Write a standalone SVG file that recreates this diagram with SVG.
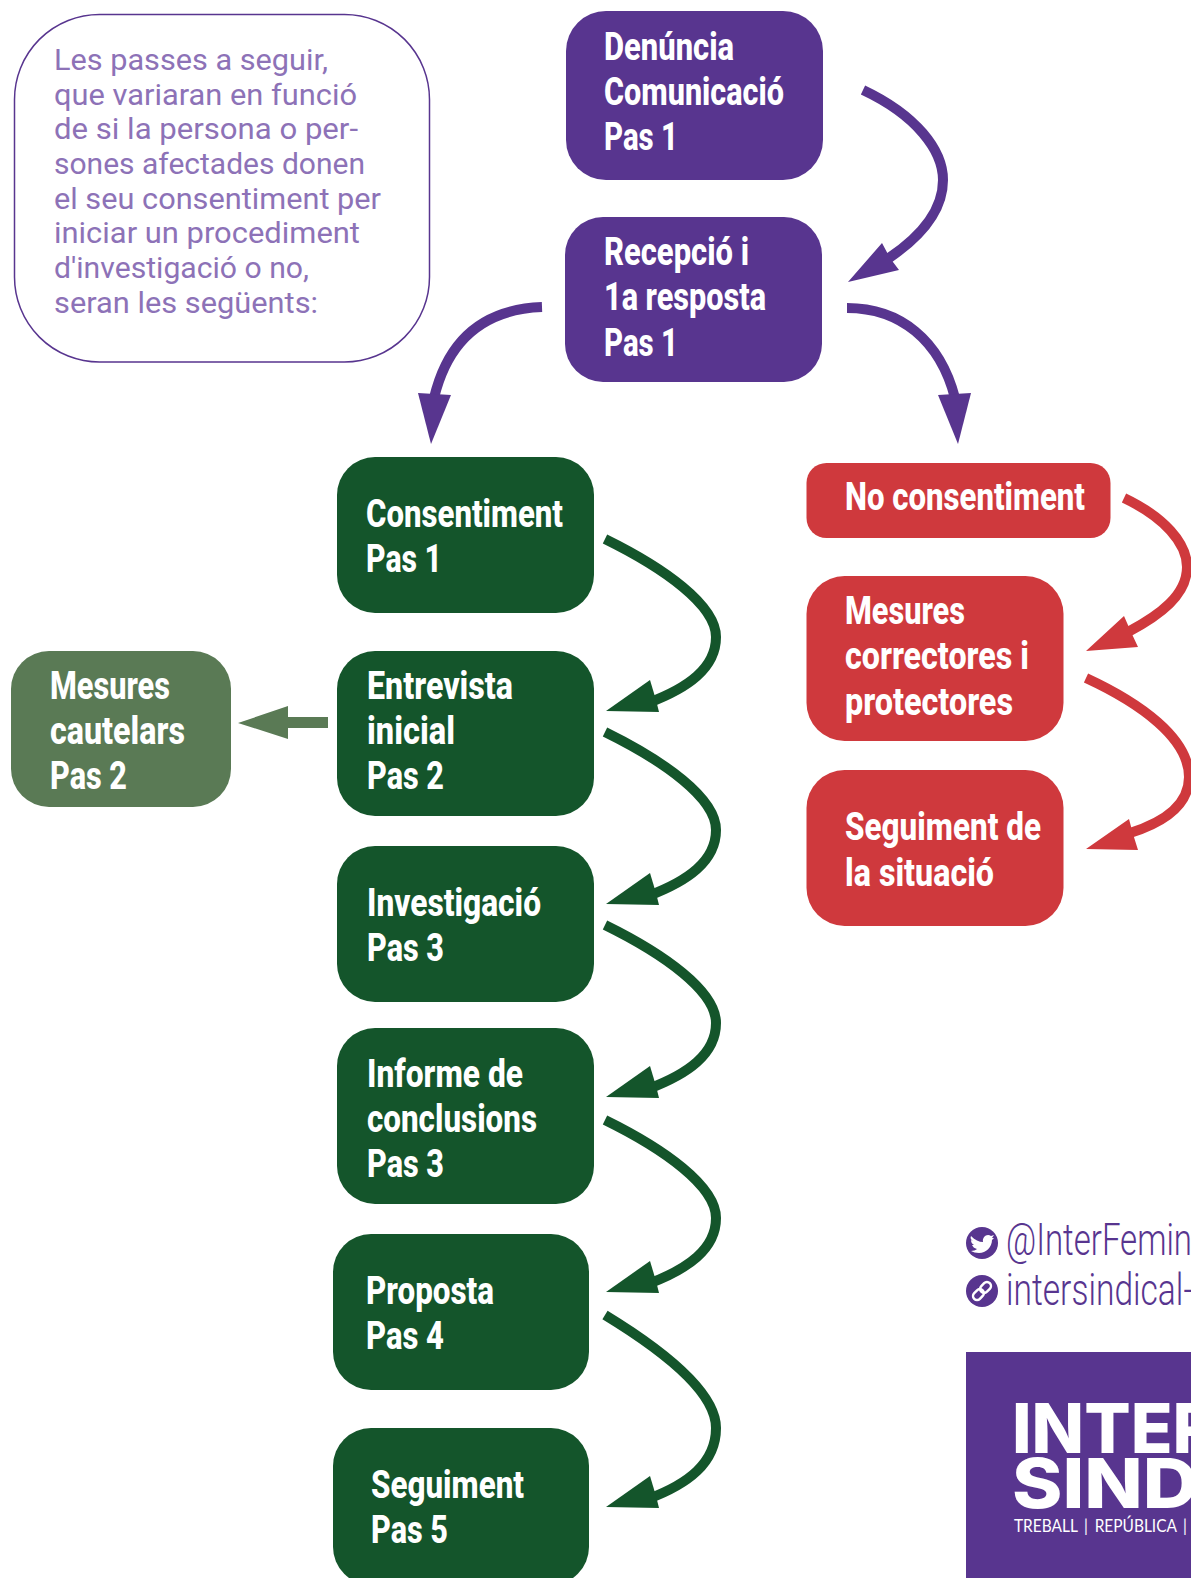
<svg xmlns="http://www.w3.org/2000/svg" width="1191" height="1578" viewBox="0 0 1191 1578">
<style>
.l{font-family:"Roboto","Liberation Sans",sans-serif;font-weight:800;font-size:38px;fill:#fff}
.b{font-family:"Roboto","Liberation Sans",sans-serif;font-weight:400;font-size:30px;fill:#8d72b7}
.h{font-family:"Roboto","Liberation Sans",sans-serif;font-weight:300;font-size:44px;fill:#58358f}
.k{font-family:Inter,sans-serif;font-weight:800;font-size:69px;fill:#fff}
.t{font-family:Lato,sans-serif;font-weight:400;font-size:17px;fill:#fff;word-spacing:3px}
.p{fill:#58358f}.g{fill:#14552b}.m{fill:#5a7a55}.r{fill:#cf393d}
.ls{fill:none;stroke-width:10}
</style>
<rect width="1191" height="1578" fill="#fff"/>
<g id="intro">
<rect x="14.500" y="14.500" width="415" height="347.500" rx="85" fill="#fff" stroke="#58358f" stroke-width="1.500"/>
<text class="b" x="54" y="70" textLength="274" lengthAdjust="spacingAndGlyphs">Les passes a seguir,</text>
<text class="b" x="54" y="105" textLength="303" lengthAdjust="spacingAndGlyphs">que variaran en funció</text>
<text class="b" x="54" y="139" textLength="304" lengthAdjust="spacingAndGlyphs">de si la persona o per-</text>
<text class="b" x="54" y="174" textLength="311" lengthAdjust="spacingAndGlyphs">sones afectades donen</text>
<text class="b" x="54" y="209" textLength="327" lengthAdjust="spacingAndGlyphs">el seu consentiment per</text>
<text class="b" x="54" y="243" textLength="306" lengthAdjust="spacingAndGlyphs">iniciar un procediment</text>
<text class="b" x="54" y="278" textLength="255" lengthAdjust="spacingAndGlyphs">d'investigació o no,</text>
<text class="b" x="54" y="313" textLength="264" lengthAdjust="spacingAndGlyphs">seran les següents:</text>
</g>
<g id="denuncia"><rect class="p" x="566" y="11" width="257" height="169" rx="40"/>
<text class="l" x="604" y="60" textLength="130" lengthAdjust="spacingAndGlyphs">Denúncia</text>
<text class="l" x="604" y="105" textLength="180" lengthAdjust="spacingAndGlyphs">Comunicació</text>
<text class="l" x="604" y="150" textLength="74" lengthAdjust="spacingAndGlyphs">Pas 1</text></g>
<g id="recepcio"><rect class="p" x="565" y="217" width="257" height="165" rx="38"/>
<text class="l" x="604" y="265" textLength="145" lengthAdjust="spacingAndGlyphs">Recepció i</text>
<text class="l" x="604" y="310" textLength="162" lengthAdjust="spacingAndGlyphs">1a resposta</text>
<text class="l" x="604" y="356" textLength="74" lengthAdjust="spacingAndGlyphs">Pas 1</text></g>
<g id="consentiment"><rect class="g" x="337" y="457" width="257" height="156" rx="38"/>
<text class="l" x="366" y="527" textLength="197" lengthAdjust="spacingAndGlyphs">Consentiment</text>
<text class="l" x="366" y="572" textLength="76" lengthAdjust="spacingAndGlyphs">Pas 1</text></g>
<g id="entrevista"><rect class="g" x="337" y="651" width="257" height="165" rx="38"/>
<text class="l" x="367" y="699" textLength="146" lengthAdjust="spacingAndGlyphs">Entrevista</text>
<text class="l" x="367" y="744" textLength="88" lengthAdjust="spacingAndGlyphs">inicial</text>
<text class="l" x="367" y="789" textLength="77" lengthAdjust="spacingAndGlyphs">Pas 2</text></g>
<g id="cautelars"><rect class="m" x="11" y="651" width="220" height="156" rx="38"/>
<text class="l" x="50" y="699" textLength="120" lengthAdjust="spacingAndGlyphs">Mesures</text>
<text class="l" x="50" y="744" textLength="135" lengthAdjust="spacingAndGlyphs">cautelars</text>
<text class="l" x="50" y="789" textLength="77" lengthAdjust="spacingAndGlyphs">Pas 2</text></g>
<g id="investigacio"><rect class="g" x="337" y="846" width="257" height="156" rx="38"/>
<text class="l" x="367" y="916" textLength="174" lengthAdjust="spacingAndGlyphs">Investigació</text>
<text class="l" x="367" y="961" textLength="77" lengthAdjust="spacingAndGlyphs">Pas 3</text></g>
<g id="informe"><rect class="g" x="337" y="1028" width="257" height="176" rx="38"/>
<text class="l" x="367" y="1087" textLength="156" lengthAdjust="spacingAndGlyphs">Informe de</text>
<text class="l" x="367" y="1132" textLength="170" lengthAdjust="spacingAndGlyphs">conclusions</text>
<text class="l" x="367" y="1177" textLength="77" lengthAdjust="spacingAndGlyphs">Pas 3</text></g>
<g id="proposta"><rect class="g" x="333" y="1234" width="256" height="156" rx="38"/>
<text class="l" x="366" y="1304" textLength="128" lengthAdjust="spacingAndGlyphs">Proposta</text>
<text class="l" x="366" y="1349" textLength="78" lengthAdjust="spacingAndGlyphs">Pas 4</text></g>
<g id="seguiment"><rect class="g" x="333" y="1428" width="256" height="157" rx="38"/>
<text class="l" x="371" y="1498" textLength="153" lengthAdjust="spacingAndGlyphs">Seguiment</text>
<text class="l" x="371" y="1543" textLength="77" lengthAdjust="spacingAndGlyphs">Pas 5</text></g>
<g id="noconsentiment"><rect class="r" x="806.500" y="463" width="304" height="75" rx="20"/>
<text class="l" x="845" y="510" textLength="240" lengthAdjust="spacingAndGlyphs">No consentiment</text></g>
<g id="mesures"><rect class="r" x="806.500" y="576" width="257" height="165" rx="38"/>
<text class="l" x="845" y="624" textLength="120" lengthAdjust="spacingAndGlyphs">Mesures</text>
<text class="l" x="845" y="669" textLength="184" lengthAdjust="spacingAndGlyphs">correctores i</text>
<text class="l" x="845" y="715" textLength="168" lengthAdjust="spacingAndGlyphs">protectores</text></g>
<g id="seguimentsituacio"><rect class="r" x="806.500" y="770" width="257" height="156" rx="38"/>
<text class="l" x="845" y="840" textLength="196" lengthAdjust="spacingAndGlyphs">Seguiment de</text>
<text class="l" x="845" y="886" textLength="149" lengthAdjust="spacingAndGlyphs">la situació</text></g>
<g id="connectors">
<path class="ls" stroke="#58358f" d="M863 90C916 115 943 150 943 180C943 210 923 235 889 258"/>
<polygon class="p" points="848,282 882,243 890,258 899,270"/>
<path class="ls" stroke="#58358f" d="M847 308C900 308 940 340 955 398"/>
<polygon class="p" points="958,444 938,395 971,393"/>
<path class="ls" stroke="#58358f" d="M542 307C489 309 449 335 434 398"/>
<polygon class="p" points="431,444 418,393 451,395"/>
<g id="green-arrows">
<path class="ls" stroke="#14552b" d="M605 539C664 568 716 605 716 637C716 668 688 688 648 703"/><polygon class="g" points="606,711 650,680 656,700 659,712"/>
<path class="ls" stroke="#14552b" d="M605 732C664 761 716 798 716 830C716 861 688 881 648 896"/><polygon class="g" points="606,904 650,873 656,893 659,905"/>
<path class="ls" stroke="#14552b" d="M605 925C664 954 716 991 716 1023C716 1054 688 1074 648 1089"/><polygon class="g" points="606,1097 650,1066 656,1086 659,1098"/>
<path class="ls" stroke="#14552b" d="M605 1120C664 1149 716 1186 716 1218C716 1249 688 1269 648 1284"/><polygon class="g" points="606,1292 650,1261 656,1281 659,1293"/>
<path class="ls" stroke="#14552b" d="M605 1315C664 1351 716 1392 716 1428C716 1463 688 1484 648 1499"/><polygon class="g" points="606,1507 650,1476 656,1496 659,1508"/>
</g>
<path class="ls" stroke="#cf393d" d="M1124 498C1164 517 1187 543 1187 567C1187 595 1160 615 1128 632"/><polygon class="r" points="1086,651 1124,616 1131,632 1138,647"/>
<path class="ls" stroke="#cf393d" d="M1086 678C1140 703 1189 738 1189 777C1189 805 1165 822 1130 833"/><polygon class="r" points="1086,849 1129,819 1133,834 1138,850"/>
<polygon class="m" points="238,723 288,706 288,717 328,717 328,728 288,728 288,739"/>
</g>
<g id="social">
<circle class="p" cx="982" cy="1243" r="16"/>
<path fill="#fff" d="M971 1236C975 1240 979 1242 983 1242C982 1237 987 1233 991 1236L994 1235L992 1238L994 1238L992 1240C992 1247 986 1253 979 1253C976 1253 973 1252 971 1251C973 1251 976 1250 977 1249C974 1248 973 1247 972 1245L974 1245C972 1244 971 1242 971 1240L973 1241C971 1240 970 1238 971 1236Z"/>
<text class="h" x="1006" y="1255" textLength="186" lengthAdjust="spacingAndGlyphs">@InterFemin</text>
<circle class="p" cx="982" cy="1291" r="16"/>
<g fill="none" stroke="#fff" stroke-width="2.500" transform="rotate(-45 982 1291)"><rect x="971" y="1287" width="12" height="8" rx="4"/><rect x="981" y="1287" width="12" height="8" rx="4"/></g>
<text class="h" x="1006" y="1305" textLength="187" lengthAdjust="spacingAndGlyphs">intersindical-</text>
</g>
<g id="logo">
<rect class="p" x="966" y="1352" width="225" height="226"/>
<text class="k" x="1012" y="1453" textLength="206" lengthAdjust="spacingAndGlyphs">INTER</text>
<text class="k" x="1012" y="1508" textLength="186" lengthAdjust="spacingAndGlyphs">SIND</text>
<text class="t" x="1014" y="1532" textLength="173" lengthAdjust="spacingAndGlyphs">TREBALL | REPÚBLICA |</text>
</g>
</svg>
